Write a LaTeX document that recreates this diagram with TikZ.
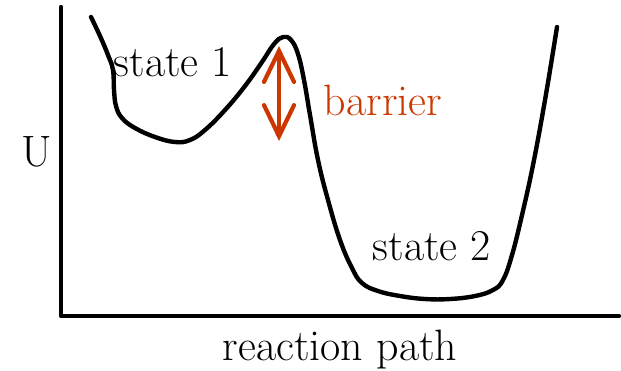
\documentclass[tikz,border=0pt]{standalone}
\definecolor{BarrierRed}{RGB}{204,55,0}
\usetikzlibrary{arrows.meta}

\begin{document}
\begin{tikzpicture}[x=0.02cm, y=-0.02cm,
      every node/.style={font=\fontsize{25}{30}\selectfont, inner sep=0pt},
      axis/.style={line width=2.4pt, line cap=round, line join=round},
      curve/.style={line width=2.5pt, line cap=round},
      gap/.style={draw=BarrierRed, line width=2.4pt, line cap=round,
                  {Straight Barb[length=0.62cm, width=0.6cm, line cap=round]}-{Straight Barb[length=0.62cm, width=0.6cm, line cap=round]}}
  ]
    \useasboundingbox (0,0) rectangle (621,370);
    % axes
    \coordinate (ytop) at (61,7);
    \coordinate (origin) at (61,316);
    \coordinate (xend) at (619,316);
    \draw[axis] (ytop) -- (origin) -- (xend);
    % energy curve
    \draw[curve] plot[smooth, tension=0.7] coordinates {
      (91,17) (100,36) (108,55) (113,70) (114,90) (116,106) (122,118)
      (135,128) (155,137) (175,142) (190,140) (205,130) (225,110)
      (245,86) (262,62) (274,44) (283,37) (291,40) (298,54) (304,80)
      (310,115) (318,160) (328,200) (340,240) (352,268) (362,283)
      (378,291) (400,296) (425,299) (450,299) (475,296) (493,290)
      (503,280) (512,255) (522,215) (533,165) (545,100) (557,27)};
    % barrier height
    \coordinate (bartop) at (279,46);
    \coordinate (barbot) at (279,141);
    \draw[gap] (bartop) -- (barbot);
    % labels
    \node (state1) at (173,62) {state 1};
    \node[text=BarrierRed] (barrier) at (383,100) {barrier};
    \node (state2) at (432,246) {state 2};
    \node (ulabel) at (37,152) {U};
    \node (xlabel) at (340,350) {reaction path};
\end{tikzpicture}
\end{document}
